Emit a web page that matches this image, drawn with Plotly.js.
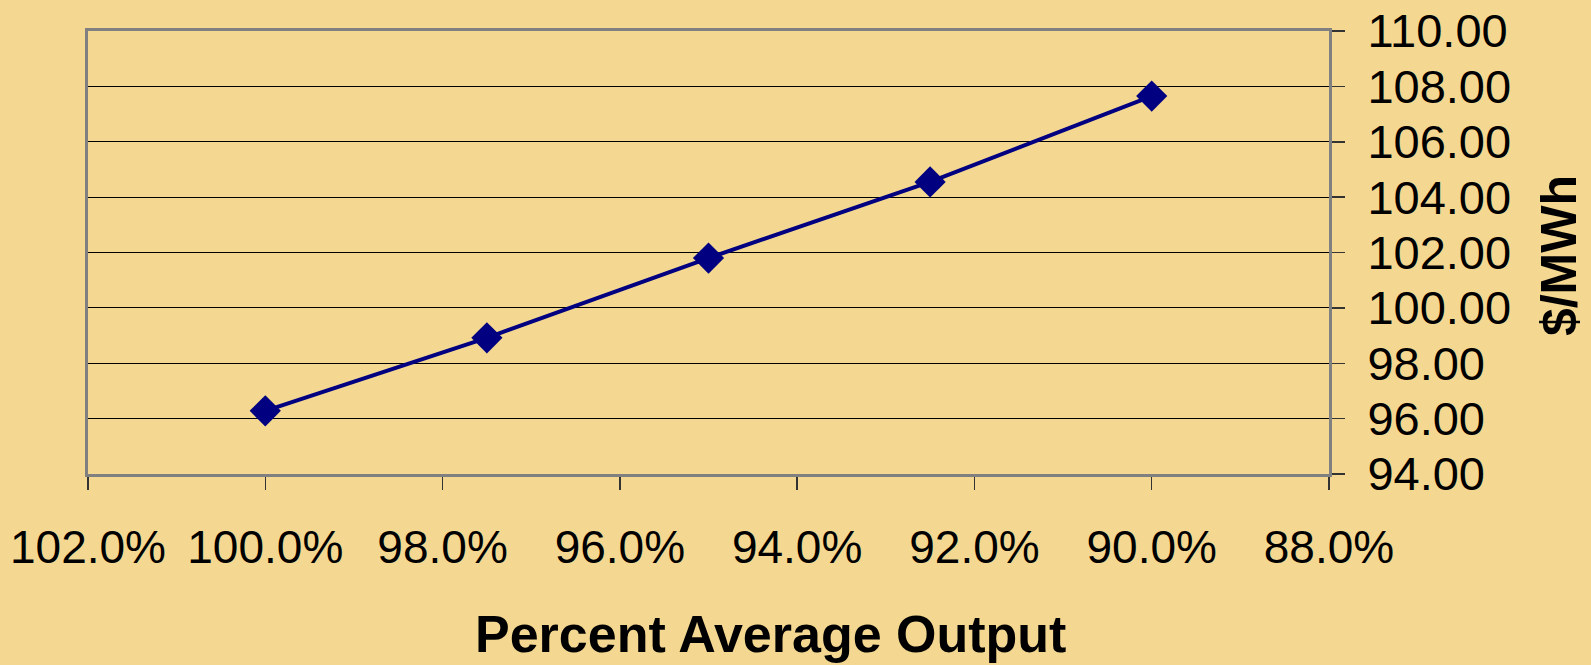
<!DOCTYPE html>
<html>
<head>
<meta charset="utf-8">
<script src="https://cdn.plot.ly/plotly-3.0.1.min.js"></script>
<style>html,body{margin:0;padding:0;background:#F4D891;}</style>
</head>
<body>
<div id="chart" style="width:1591px;height:665px;"></div>
<script>
// Data
const percentOutput = [100.0, 97.5, 95.0, 92.5, 90.0];
const costPerMWh = [96.28, 98.92, 101.80, 104.55, 107.65];
const xTitle = "Percent Average Output";
const yTitle = "$/MWh";

const FONT = 'Liberation Sans, Arial, sans-serif';

const trace = {
  x: percentOutput,
  y: costPerMWh,
  type: 'scatter',
  mode: 'lines+markers',
  line: {color: '#000080', width: 4},
  marker: {symbol: 'diamond', size: 24, color: '#000080'},
  hoverinfo: 'x+y'
};

const layout = {
  width: 1591,
  height: 665,
  paper_bgcolor: '#F4D891',
  plot_bgcolor: '#F4D891',
  margin: {l: 88, r: 262, t: 31, b: 191},
  showlegend: false,
  font: {family: FONT, color: '#000'},
  xaxis: {
    range: [102, 88],
    dtick: 2,
    tick0: 88,
    tickformat: '.1f',
    ticksuffix: '%',
    ticks: 'outside',
    ticklen: 13,
    tickwidth: 1.5,
    tickcolor: '#333',
    tickfont: {size: 46, family: FONT},
    ticklabelstandoff: 18,
    showgrid: false,
    zeroline: false,
    showline: true,
    linecolor: '#808080',
    linewidth: 3,
    mirror: true
  },
  yaxis: {
    side: 'right',
    range: [94, 110],
    dtick: 2,
    tickformat: '.2f',
    ticks: 'outside',
    ticklen: 13,
    tickwidth: 1.5,
    tickcolor: '#333',
    tickfont: {size: 47, family: FONT},
    ticklabelstandoff: 13,
    showgrid: true,
    gridcolor: '#000',
    gridwidth: 1,
    zeroline: false,
    showline: true,
    linecolor: '#808080',
    linewidth: 3,
    mirror: true
  },
  annotations: [
    {
      text: '<b>' + xTitle + '</b>',
      xref: 'paper', yref: 'paper',
      x: 0.5496, y: -0.361,
      xanchor: 'center', yanchor: 'middle',
      showarrow: false,
      font: {size: 52, family: FONT, color: '#000'}
    },
    {
      text: '<b>' + yTitle + '</b>',
      xref: 'paper', yref: 'paper',
      x: 1.1853, y: 0.494,
      xanchor: 'center', yanchor: 'middle',
      textangle: -90,
      showarrow: false,
      font: {size: 50, family: FONT, color: '#000'}
    }
  ]
};

Plotly.newPlot('chart', [trace], layout, {displayModeBar: false, staticPlot: true});
</script>
</body>
</html>
